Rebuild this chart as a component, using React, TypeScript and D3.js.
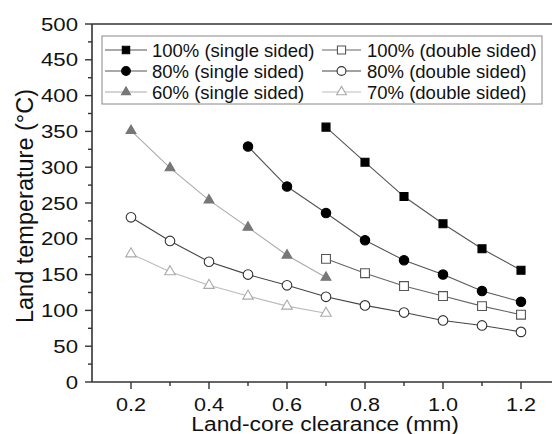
import React, { useEffect, useRef } from 'react';
import * as d3 from 'd3';

// clearance values (mm) per series
const xSingle100 = [0.7, 0.8, 0.9, 1.0, 1.1, 1.2];
const xSingle80 = [0.5, 0.6, 0.7, 0.8, 0.9, 1.0, 1.1, 1.2];
const xSingle60 = [0.2, 0.3, 0.4, 0.5, 0.6, 0.7];
const xDouble100 = [0.7, 0.8, 0.9, 1.0, 1.1, 1.2];
const xDouble80 = [0.2, 0.3, 0.4, 0.5, 0.6, 0.7, 0.8, 0.9, 1.0, 1.1, 1.2];
const xDouble70 = [0.2, 0.3, 0.4, 0.5, 0.6, 0.7];

// land temperature (°C)
const tSingle100 = [356, 307, 259, 221, 186, 156];
const tSingle80 = [329, 273, 236, 198, 170, 150, 127, 112];
const tSingle60 = [351, 299, 254, 216, 177, 146];
const tDouble100 = [172, 152, 134, 120, 106, 94];
const tDouble80 = [230, 197, 168, 150, 135, 119, 107, 97, 86, 79, 70];
const tDouble70 = [179, 154, 135, 120, 106, 96];

const legendNames = [
  '100% (single sided)', '80% (single sided)', '60% (single sided)',
  '100% (double sided)', '80% (double sided)', '70% (double sided)'
];

const xTicks = [0.2, 0.4, 0.6, 0.8, 1.0, 1.2];
const yTicks = [0, 50, 100, 150, 200, 250, 300, 350, 400, 450, 500];

const FONT = "'Liberation Sans', Arial, sans-serif";

export default function App() {
  const svgRef = useRef<SVGSVGElement>(null);

  useEffect(() => {
    const W = 552, H = 434;
    const left = 92, top = 24, bottom = 382;

    const x = d3.scaleLinear().domain([0.1, 1.3]).range([left, left + 1.2 * 390]);
    const y = d3.scaleLinear().domain([0, 500]).range([bottom, top]);

    const series = [
      { xs: xSingle100, ys: tSingle100, sym: d3.symbolSquare, size: 64, fill: '#000', stroke: '#000', line: '#555' },
      { xs: xSingle80, ys: tSingle80, sym: d3.symbolCircle, size: 70, fill: '#000', stroke: '#000', line: '#555' },
      { xs: xSingle60, ys: tSingle60, sym: d3.symbolTriangle, size: 42, fill: '#777', stroke: '#777', line: '#aaa' },
      { xs: xDouble100, ys: tDouble100, sym: d3.symbolSquare, size: 78, fill: '#fff', stroke: '#555', line: '#666' },
      { xs: xDouble80, ys: tDouble80, sym: d3.symbolCircle, size: 72, fill: '#fff', stroke: '#333', line: '#444' },
      { xs: xDouble70, ys: tDouble70, sym: d3.symbolTriangle, size: 48, fill: '#fff', stroke: '#aaa', line: '#bbb' },
    ];

    const svg = d3.select(svgRef.current!);
    svg.selectAll('*').remove();
    svg.attr('width', W).attr('height', H);

    svg.append('rect').attr('width', W).attr('height', H).attr('fill', '#fff');

    // frame
    svg.append('line').attr('x1', left).attr('x2', W + 10).attr('y1', top).attr('y2', top)
      .attr('stroke', '#333').attr('stroke-width', 1.6);
    svg.append('line').attr('x1', left).attr('x2', W + 10).attr('y1', bottom).attr('y2', bottom)
      .attr('stroke', '#333').attr('stroke-width', 1.6);
    svg.append('line').attr('x1', left).attr('x2', left).attr('y1', top).attr('y2', bottom)
      .attr('stroke', '#333').attr('stroke-width', 1.6);

    // y ticks
    const yMinor = d3.range(25, 500, 50);
    svg.append('g').selectAll('line.maj').data(yTicks).enter().append('line')
      .attr('x1', left - 7).attr('x2', left).attr('y1', d => y(d)).attr('y2', d => y(d))
      .attr('stroke', '#333').attr('stroke-width', 1.4);
    svg.append('g').selectAll('line.min').data(yMinor).enter().append('line')
      .attr('x1', left - 4).attr('x2', left).attr('y1', d => y(d)).attr('y2', d => y(d))
      .attr('stroke', '#333').attr('stroke-width', 1.4);
    svg.append('g').selectAll('text').data(yTicks).enter().append('text')
      .attr('transform', d => `translate(78,${y(d) + 6.6}) scale(1.2,1)`)
      .attr('text-anchor', 'end')
      .style('font-family', FONT).style('font-size', '18.5px').attr('fill', '#111')
      .text(d => d);

    // x ticks
    const xMinor = d3.range(0.3, 1.35, 0.2);
    svg.append('g').selectAll('line').data(xTicks).enter().append('line')
      .attr('x1', d => x(d)).attr('x2', d => x(d)).attr('y1', bottom).attr('y2', bottom + 7)
      .attr('stroke', '#333').attr('stroke-width', 1.4);
    svg.append('g').selectAll('line').data(xMinor).enter().append('line')
      .attr('x1', d => x(d)).attr('x2', d => x(d)).attr('y1', bottom).attr('y2', bottom + 4)
      .attr('stroke', '#333').attr('stroke-width', 1.4);
    svg.append('g').selectAll('text').data(xTicks).enter().append('text')
      .attr('transform', d => `translate(${x(d)},411) scale(1.2,1)`)
      .attr('text-anchor', 'middle')
      .style('font-family', FONT).style('font-size', '18px').attr('fill', '#111')
      .text(d => d3.format('.1f')(d));

    // axis titles
    svg.append('text')
      .attr('transform', 'translate(325,431) scale(1.17,1)')
      .attr('text-anchor', 'middle')
      .style('font-family', FONT).style('font-size', '19.5px').attr('fill', '#111')
      .text('Land-core clearance (mm)');
    svg.append('text')
      .attr('transform', 'translate(33,206) rotate(-90)')
      .attr('text-anchor', 'middle')
      .style('font-family', FONT).style('font-size', '23.5px').attr('fill', '#111')
      .text('Land temperature (°C)');

    // series
    const lineGen = d3.line<[number, number]>().x(d => x(d[0])).y(d => y(d[1]));
    series.forEach(s => {
      const pts = s.xs.map((v, i) => [v, s.ys[i]] as [number, number]);
      svg.append('path').attr('d', lineGen(pts)).attr('fill', 'none')
        .attr('stroke', s.line).attr('stroke-width', 1.1);
      svg.append('g').selectAll('path').data(pts).enter().append('path')
        .attr('d', d3.symbol().type(s.sym).size(s.size)())
        .attr('transform', d => `translate(${x(d[0])},${y(d[1])})`)
        .attr('fill', s.fill).attr('stroke', s.stroke).attr('stroke-width', 1.1);
    });

    // legend
    const lg = svg.append('g');
    lg.append('rect').attr('x', 102).attr('y', 36).attr('width', 440).attr('height', 68)
      .attr('fill', '#fff').attr('stroke', '#888').attr('stroke-width', 1);
    const rowsY = [50, 71, 92];
    const cols = [{ l0: 105, l1: 147, tx: 152 }, { l0: 322, l1: 361, tx: 367 }];
    series.forEach((s, i) => {
      const c = cols[Math.floor(i / 3)];
      const ry = rowsY[i % 3];
      lg.append('line').attr('x1', c.l0).attr('x2', c.l1).attr('y1', ry).attr('y2', ry)
        .attr('stroke', s.line).attr('stroke-width', 1.1);
      lg.append('path').attr('d', d3.symbol().type(s.sym).size(s.size * 0.85)())
        .attr('transform', `translate(${(c.l0 + c.l1) / 2},${ry})`)
        .attr('fill', s.fill).attr('stroke', s.stroke).attr('stroke-width', 1.1);
      lg.append('text').attr('x', c.tx).attr('y', ry + 6.6)
        .style('font-family', FONT).style('font-size', '18.5px').attr('fill', '#111')
        .text(legendNames[i]);
    });
  }, []);

  return (
    <div style={{ position: 'absolute', left: 0, top: 0 }}>
      <svg ref={svgRef} style={{ display: 'block' }} />
    </div>
  );
}
